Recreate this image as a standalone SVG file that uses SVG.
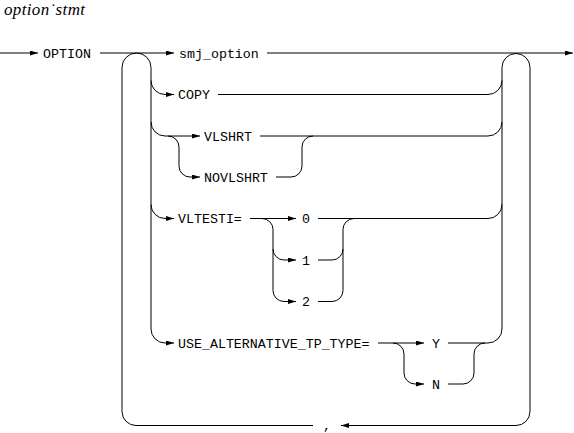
<svg xmlns="http://www.w3.org/2000/svg" width="574" height="433" viewBox="0 0 574 433">
<style>
.c{fill:none;stroke:#000;stroke-width:1}
.t{font-family:"Liberation Mono","DejaVu Sans Mono",monospace;font-size:13.3px;fill:#000}
.title{font-family:"Liberation Serif",serif;font-style:italic;font-size:17px;fill:#000}
</style>
<defs>
<marker id="ah" markerUnits="userSpaceOnUse" markerWidth="8" markerHeight="5" refX="8" refY="2.5" orient="auto">
<path d="M0,0 L8,2.5 L0,5 Z" fill="#000"/>
</marker>
</defs>
<rect width="574" height="433" fill="#fff"/>
<text class="title" x="4" y="15" textLength="81" lengthAdjust="spacing">option˙stmt</text>
<g id="connectors">
<path class="c" d="M0,53 H38" marker-end="url(#ah)"/>
<path class="c" d="M100,53 H174" marker-end="url(#ah)"/>
<path class="c" d="M267,53 H573" marker-end="url(#ah)"/>
<path class="c" d="M313,425.5 H136 A14,14 0 0 1 122,411.5 V67.5 A14.5,14.5 0 0 1 151,67.5 V329 A14,14 0 0 0 165,343 H174" marker-end="url(#ah)"/>
<path class="c" d="M151,80.5 A14,14 0 0 0 165,94.5 H174" marker-end="url(#ah)"/>
<path class="c" d="M151,122 A14,14 0 0 0 165,136 H200" marker-end="url(#ah)"/>
<path class="c" d="M168,136 A11,11 0 0 1 179,147 V166 A11,11 0 0 0 190,177 H200" marker-end="url(#ah)"/>
<path class="c" d="M151,204.5 A14,14 0 0 0 165,218.5 H174" marker-end="url(#ah)"/>
<path class="c" d="M218,94.5 H488 A14,14 0 0 0 502,80.5"/>
<path class="c" d="M260,136 H488 A14,14 0 0 0 502,122"/>
<path class="c" d="M276,177 H291 A11,11 0 0 0 302,166 V147 A11,11 0 0 1 313,136"/>
<path class="c" d="M250,218.5 H296" marker-end="url(#ah)"/>
<path class="c" d="M262,218.5 A11,11 0 0 1 273,229.5 V249 A11,11 0 0 0 284,260 H296" marker-end="url(#ah)"/>
<path class="c" d="M273,249 V290.5 A11,11 0 0 0 284,301.5 H296" marker-end="url(#ah)"/>
<path class="c" d="M318,218.5 H488 A14,14 0 0 0 502,204.5"/>
<path class="c" d="M318,260 H332 A11,11 0 0 0 343,249 V229.5 A11,11 0 0 1 354,218.5"/>
<path class="c" d="M318,301.5 H332 A11,11 0 0 0 343,290.5 V249"/>
<path class="c" d="M378,343 H424" marker-end="url(#ah)"/>
<path class="c" d="M393,343 A11,11 0 0 1 404,354 V373 A11,11 0 0 0 415,384 H424" marker-end="url(#ah)"/>
<path class="c" d="M448,343 H488 A14,14 0 0 0 502,329 V67.5 A14,14 0 0 1 530,67.5 V411.5 A14,14 0 0 1 516,425.5 H341" marker-end="url(#ah)"/>
<path class="c" d="M448,384 H463 A11,11 0 0 0 474,373 V354 A11,11 0 0 1 485,343"/>
</g>
<g id="n_option"><text class="t" x="43" y="57.5">OPTION</text></g>
<g id="n_smj_option"><text class="t" x="179" y="57.5">smj_option</text></g>
<g id="n_copy"><text class="t" x="178" y="99">COPY</text></g>
<g id="n_vlshrt"><text class="t" x="204" y="140.5">VLSHRT</text></g>
<g id="n_novlshrt"><text class="t" x="204" y="181.5">NOVLSHRT</text></g>
<g id="n_vltesti"><text class="t" x="178" y="223">VLTESTI=</text></g>
<g id="n_0"><text class="t" x="302" y="223">0</text></g>
<g id="n_1"><text class="t" x="302" y="264.5">1</text></g>
<g id="n_2"><text class="t" x="302" y="306">2</text></g>
<g id="n_use"><text class="t" x="178" y="347.5">USE_ALTERNATIVE_TP_TYPE=</text></g>
<g id="n_y"><text class="t" x="432" y="347.5">Y</text></g>
<g id="n_n"><text class="t" x="432" y="388.5">N</text></g>
<g id="n_comma"><text class="t" x="323" y="430">,</text></g>
</svg>
